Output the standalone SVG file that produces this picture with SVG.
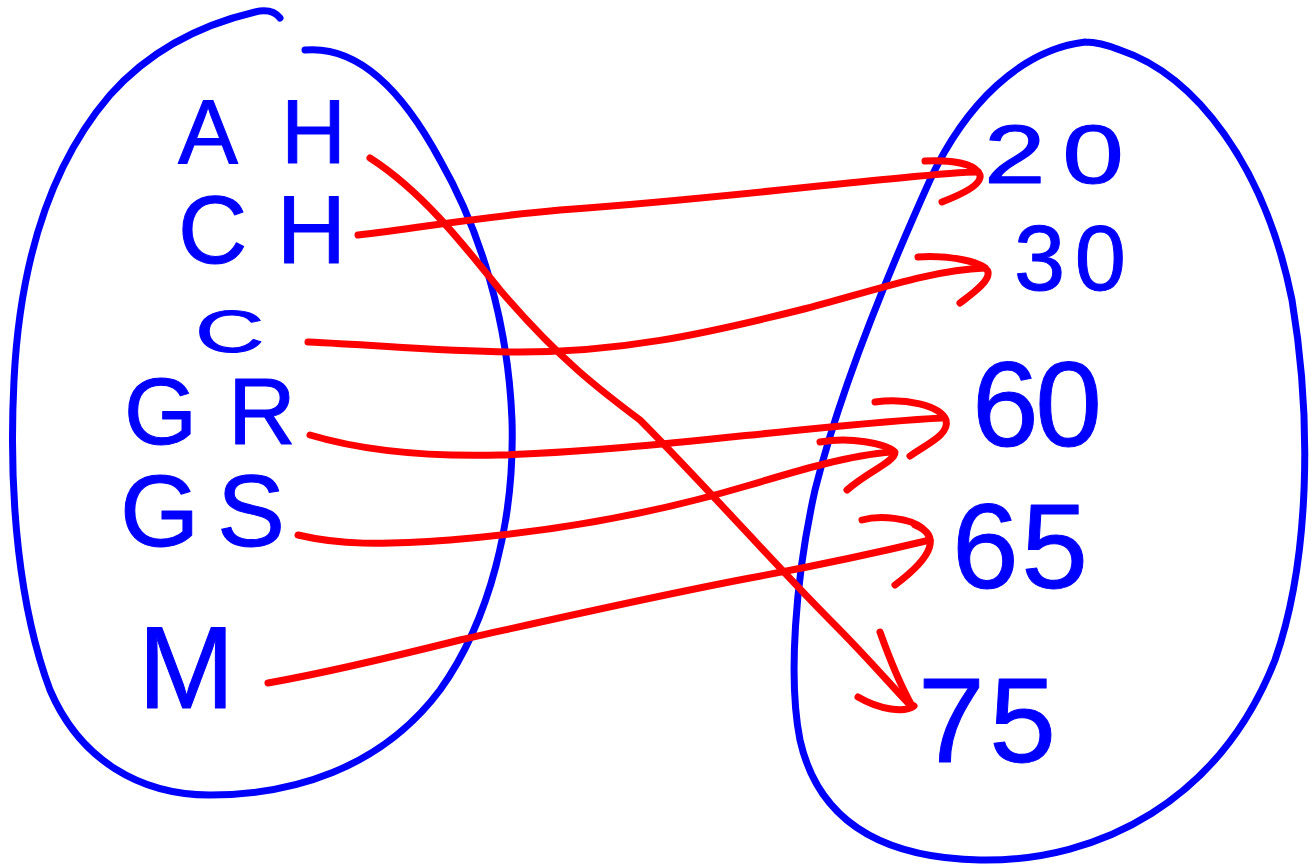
<svg xmlns="http://www.w3.org/2000/svg" width="1311" height="867" viewBox="0 0 1311 867">
  <style>
    .set { fill: none; stroke: #0000ff; stroke-width: 7; stroke-linecap: round; stroke-linejoin: round; }
    .map { fill: none; stroke: #ff0000; stroke-width: 7; stroke-linecap: round; stroke-linejoin: round; }
    .lbl { fill: #0000ff; stroke: #0000ff; stroke-width: 1; stroke-linejoin: round; font-family: "Liberation Sans", "DejaVu Sans", sans-serif; }
  </style>
  <rect width="1311" height="867" fill="#ffffff"/>

  <!-- domain set -->
  <g id="domain">
    <path class="set" d="M 280,18 Q 272,8 255,12 C 200,25 150,50 110,95 C 50,165 20,260 14,380 C 8,500 20,610 50,690 C 80,760 140,795 210,795 C 290,795 380,770 440,690 C 490,620 515,520 512,420 C 508,320 480,230 440,160 C 405,95 360,45 305,50"/>
  </g>

  <!-- codomain set -->
  <g id="codomain">
    <path class="set" d="M 1085,42 C 1020,50 965,105 930,180 C 885,280 840,390 815,490 C 795,580 788,680 800,740 C 818,820 880,858 980,860 C 1100,862 1220,800 1275,660 C 1310,560 1312,420 1292,300 C 1265,165 1195,75 1120,50 Q 1100,42 1085,42"/>
  </g>

  <!-- domain labels -->
  <g id="n-AH"><text class="lbl" x="178" y="163" font-size="90" textLength="168" lengthAdjust="spacing">AH</text></g>
  <g id="n-CH"><text class="lbl" x="178" y="263" font-size="96" textLength="168" lengthAdjust="spacing">CH</text></g>
  <g id="n-C"><text class="lbl" x="0" y="0" font-size="60" transform="translate(195,352) scale(1.6,1)">C</text></g>
  <g id="n-GR"><text class="lbl" x="124" y="444" font-size="94" textLength="172" lengthAdjust="spacing">GR</text></g>
  <g id="n-GS"><text class="lbl" x="120" y="546" font-size="102" textLength="165" lengthAdjust="spacing">GS</text></g>
  <g id="n-M"><text class="lbl" x="138" y="708" font-size="116">M</text></g>

  <!-- codomain labels -->
  <g id="n-20"><text class="lbl" x="0" y="0" font-size="84" textLength="106" lengthAdjust="spacing" transform="translate(984,183) scale(1.32,1)">20</text></g>
  <g id="n-30"><text class="lbl" x="1014" y="290" font-size="92" textLength="112" lengthAdjust="spacing">30</text></g>
  <g id="n-60"><text class="lbl" x="972" y="446" font-size="120" textLength="130" lengthAdjust="spacing">60</text></g>
  <g id="n-65"><text class="lbl" x="952" y="588" font-size="120" textLength="136" lengthAdjust="spacing">65</text></g>
  <g id="n-75"><text class="lbl" x="918" y="762" font-size="120" textLength="138" lengthAdjust="spacing">75</text></g>

  <!-- mapping arrows -->
  <g id="connectors">
    <!-- AH -> 75 -->
    <path class="map" d="M 370,158 C 420,190 460,240 500,290 C 560,360 600,390 640,420 C 700,480 780,570 830,620 C 870,660 895,690 910,705"/>
    <path class="map" d="M 880,632 C 890,660 902,688 912,706"/>
    <path class="map" d="M 858,697 C 880,710 905,713 914,706"/>
    <!-- CH -> 20 -->
    <path class="map" d="M 358,235 C 420,228 470,218 560,210 C 700,200 820,185 900,178 C 940,174 960,172 978,172"/>
    <path class="map" d="M 925,161 C 950,160 975,163 980,175 C 982,185 960,195 942,202"/>
    <!-- C -> 30 -->
    <path class="map" d="M 308,342 C 380,345 440,352 520,352 C 620,352 700,335 800,310 C 870,292 930,270 985,268"/>
    <path class="map" d="M 918,257 C 950,255 985,262 988,272 C 990,282 970,295 960,303"/>
    <!-- GR -> 60 -->
    <path class="map" d="M 310,435 C 360,450 420,457 500,455 C 600,452 700,440 800,430 C 850,425 900,420 942,418"/>
    <path class="map" d="M 875,402 C 905,398 940,405 946,420 C 950,435 925,445 910,456"/>
    <!-- GS -> 60 -->
    <path class="map" d="M 298,535 C 340,545 380,545 450,540 C 550,532 650,515 750,485 C 800,470 850,455 892,452"/>
    <path class="map" d="M 820,442 C 850,437 885,443 895,452 C 895,462 870,470 847,490"/>
    <!-- M -> 65 -->
    <path class="map" d="M 268,683 C 330,672 400,655 460,640 C 550,620 650,597 750,578 C 820,565 880,552 930,540"/>
    <path class="map" d="M 862,520 C 880,515 910,518 922,528"/>
    <path class="map" d="M 915,525 C 940,535 935,555 895,585"/>
  </g>
</svg>
